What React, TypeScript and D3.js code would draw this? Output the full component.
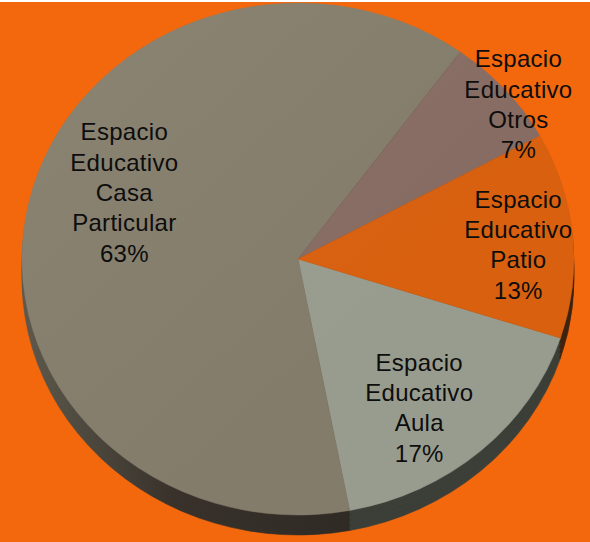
import * as d3 from 'd3'

// Pie data (clockwise from the first slice)
const categories = [['Aula'], ['Casa', 'Particular'], ['Otros'], ['Patio']]
const values = [17, 63, 7, 13]
const percentLabels = ['17%', '63%', '7%', '13%']
const labelPrefix = ['Espacio', 'Educativo']

const topColors = ['#989c8e', '#837c6a', '#866b62', '#d8600f']
const sideColors = ['#3b3f37', 'url(#casaSide)', '#4a3a35', '#3e2410']

// label placement: radius factor and angular nudge (deg), per slice
const LABEL_LAYOUT = [
  { r: 0.73, nudge: 4.4 },
  { r: 0.68, nudge: 9.7 },
  { r: 1.0, nudge: 4.4 },
  { r: 0.8, nudge: 1.5 },
]

const W = 590
const H = 542
const CX = 298
const CY = 259
const RX = 276
const RY = 256
const DEPTH = 20
const FIRST_ANGLE = 108
const LINE_H = 30.3
const FONT = 24

export default function App() {
  const toRad = (d: number) => (d * Math.PI) / 180
  const pie = d3
    .pie<number>()
    .sort(null)
    .startAngle(toRad(FIRST_ANGLE))
    .endAngle(toRad(FIRST_ANGLE + 360))
  const arcs = pie(values)
  const arc = d3.arc<d3.PieArcDatum<number>>().innerRadius(0).outerRadius(RX)
  const sy = RY / RX

  const sideOffsets = [DEPTH, DEPTH * 0.75, DEPTH * 0.5, DEPTH * 0.25]

  return (
    <svg
      width={W}
      height={H}
      style={{ position: 'absolute', left: 0, top: 0, display: 'block' }}
      fontFamily="'Liberation Sans', Arial, sans-serif"
    >
      <defs>
        <linearGradient id="casaSide" gradientUnits="userSpaceOnUse" x1={-RX} y1={0} x2={60} y2={0}>
          <stop offset="0%" stopColor="#5e594c" />
          <stop offset="45%" stopColor="#38322b" />
          <stop offset="100%" stopColor="#2f2a24" />
        </linearGradient>
        <linearGradient id="topLight" gradientUnits="userSpaceOnUse" x1={-RX} y1={-RX} x2={RX * 0.3} y2={RX * 0.3}>
          <stop offset="0%" stopColor="#ffffff" stopOpacity={0.06} />
          <stop offset="100%" stopColor="#ffffff" stopOpacity={0} />
        </linearGradient>
      </defs>
      <rect width={W} height={H} fill="#ffffff" />
      <rect y={2} width={W} height={H - 2} fill="#f3680d" />

      {/* side walls: the pie stacked a few times below the top face */}
      {sideOffsets.map((off) => (
        <g key={off} transform={`translate(${CX},${CY + off}) scale(1,${sy})`}>
          {arcs.map((a, i) => (
            <path key={i} d={arc(a) ?? ''} fill={sideColors[i]} stroke={sideColors[i]} strokeWidth={0.6} />
          ))}
        </g>
      ))}

      <g transform={`translate(${CX},${CY}) scale(1,${sy})`}>
        {arcs.map((a, i) => (
          <path key={i} d={arc(a) ?? ''} fill={topColors[i]} stroke={topColors[i]} strokeWidth={0.5} />
        ))}
        <ellipse rx={RX} ry={RX} fill="url(#topLight)" />
      </g>

      {arcs.map((a, i) => {
        const lay = LABEL_LAYOUT[i]
        const mid = (a.startAngle + a.endAngle) / 2 + toRad(lay.nudge)
        const r = lay.r * RX
        const x = CX + r * Math.sin(mid)
        const y = CY - r * Math.cos(mid) * sy
        const lines = [...labelPrefix, ...categories[i], percentLabels[i]]
        const y0 = y - ((lines.length - 1) / 2) * LINE_H + 8
        return (
          <text key={i} x={x} y={y0} textAnchor="middle" fontSize={FONT} letterSpacing={0.3} fill="#0d0d0d">
            {lines.map((l, j) => (
              <tspan key={j} x={x} y={y0 + j * LINE_H}>
                {l}
              </tspan>
            ))}
          </text>
        )
      })}
    </svg>
  )
}
